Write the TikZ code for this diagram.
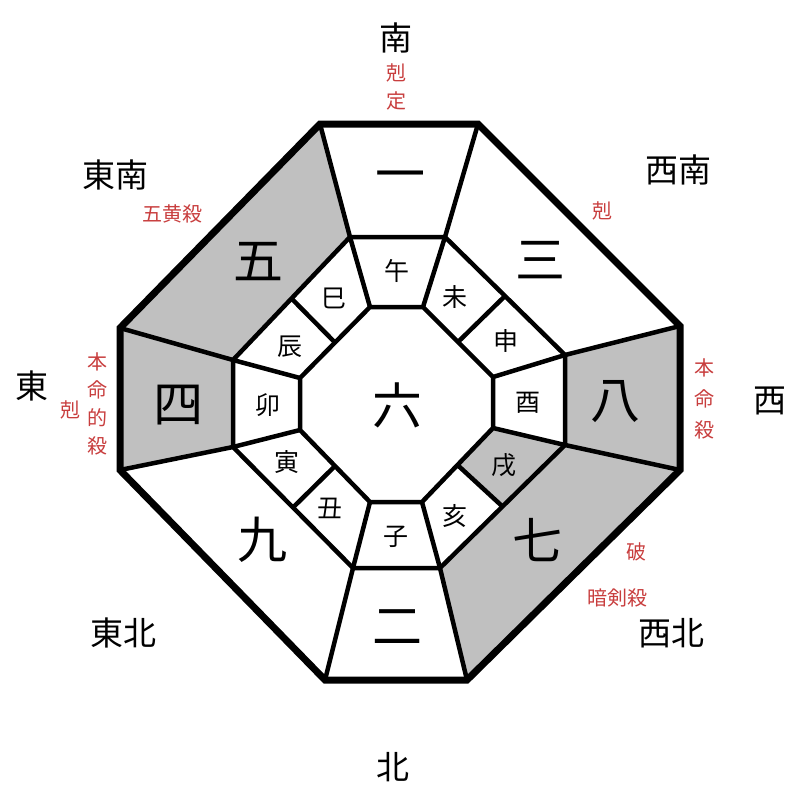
\documentclass[tikz,border=0pt]{standalone}
\usepackage{fontspec}
\usetikzlibrary{calc}
\newfontfamily\cjk{Noto Sans CJK JP}
\definecolor{rojo}{RGB}{200,62,62}
\definecolor{gris}{RGB}{192,192,192}

\begin{document}
\begin{tikzpicture}[x=1pt, y=-1pt,
    borde/.style={line width=7pt, line join=miter},
    linea/.style={line width=4.5pt, line join=miter},
    numero/.style={font=\cjk\fontsize{50}{50}\selectfont, inner sep=0pt},
    rama/.style={font=\cjk\fontsize{25}{25}\selectfont, inner sep=0pt},
    dir/.style={font=\cjk\fontsize{33}{33}\selectfont, inner sep=0pt},
    nota/.style={font=\cjk\fontsize{20}{28}\selectfont, text=rojo, align=center, inner sep=0pt}]
    \useasboundingbox (0,0) rectangle (800,800);

    % Octágono exterior
    \coordinate (O1) at (320,124); \coordinate (O2) at (478,124);
    \coordinate (O3) at (680,326); \coordinate (O4) at (680,470);
    \coordinate (O5) at (467,680); \coordinate (O6) at (325,680);
    \coordinate (O7) at (120,470); \coordinate (O8) at (120,328);
    % Octágono medio
    \coordinate (M1) at (350,237); \coordinate (M2) at (445,237);
    \coordinate (M3) at (565,355); \coordinate (M4) at (565,445);
    \coordinate (M5) at (440,568); \coordinate (M6) at (353,568);
    \coordinate (M7) at (233,447); \coordinate (M8) at (233,360);
    % Octágono interior
    \coordinate (I1) at (370,307); \coordinate (I2) at (423,307);
    \coordinate (I3) at (493,377); \coordinate (I4) at (493,428);
    \coordinate (I5) at (422,502); \coordinate (I6) at (370,502);
    \coordinate (I7) at (300,430); \coordinate (I8) at (300,378);

    % Sectores sombreados
    \fill[gris] (O8) -- (O1) -- (M1) -- (M8) -- cycle;
    \fill[gris] (O7) -- (O8) -- (M8) -- (M7) -- cycle;
    \fill[gris] (O3) -- (O4) -- (M4) -- (M3) -- cycle;
    \fill[gris] (O4) -- (O5) -- (M5) -- (M4) -- cycle;
    \fill[gris] (M4) -- ($(M4)!0.5!(M5)$) -- ($(I4)!0.5!(I5)$) -- (I4) -- cycle;

    % Líneas radiales y anillos
    \foreach \k in {1,...,8}
        \draw[linea] (O\k) -- (M\k) -- (I\k);
    \draw[linea] (M1) -- (M2) -- (M3) -- (M4) -- (M5) -- (M6) -- (M7) -- (M8) -- cycle;
    \draw[linea] (I1) -- (I2) -- (I3) -- (I4) -- (I5) -- (I6) -- (I7) -- (I8) -- cycle;
    \foreach \a/\b in {2/3,4/5,6/7,8/1}
        \draw[linea] ($(M\a)!0.5!(M\b)$) -- ($(I\a)!0.5!(I\b)$);
    \draw[borde] (O1) -- (O2) -- (O3) -- (O4) -- (O5) -- (O6) -- (O7) -- (O8) -- cycle;

    % Números
    \node[numero] (uno) at (400,182) {一};
    \node[numero] (tres) at (540,260) {三};
    \node[numero] (ocho) at (615,402) {八};
    \node[numero] (siete) at (537,540) {七};
    \node[numero] (dos) at (397,627) {二};
    \node[numero] (nueve) at (262,540) {九};
    \node[numero] (cuatro) at (178,405) {四};
    \node[numero] (cinco) at (258,262) {五};
    \node[numero] (seis) at (397,405) {六};

    % Ramas terrestres
    \node[rama] (wu) at (397,271) {午};
    \node[rama] (wei) at (455,297) {未};
    \node[rama] (shen) at (506,341) {申};
    \node[rama] (you) at (528,403) {酉};
    \node[rama] (xu) at (504,465) {戌};
    \node[rama] (hai) at (455,516) {亥};
    \node[rama] (zi) at (396,537) {子};
    \node[rama] (chou) at (330,508) {丑};
    \node[rama] (yin) at (287,462) {寅};
    \node[rama] (mao) at (268,405) {卯};
    \node[rama] (chen) at (290,347) {辰};
    \node[rama] (si) at (334,298) {巳};

    % Direcciones
    \node[dir] (sur) at (396,38) {南};
    \node[dir] (sureste) at (115,175) {東南};
    \node[dir] (suroeste) at (678,170) {西南};
    \node[dir] (este) at (32,386) {東};
    \node[dir] (oeste) at (770,401) {西};
    \node[dir] (noreste) at (123,633) {東北};
    \node[dir] (noroeste) at (671,633) {西北};
    \node[dir] (norte) at (393,767) {北};

    % Notas en rojo
    \node[nota] (kokutei) at (396,87) {剋\\定};
    \node[nota] (gooo) at (172,214) {五黄殺};
    \node[nota] (koku1) at (602,211) {剋};
    \node[nota] (koku2) at (70,410) {剋};
    \node[nota] (honmeiteki) at (97,404) {本\\命\\的\\殺};
    \node[nota, font=\cjk\fontsize{20}{31}\selectfont] (honmei) at (704,399) {本\\命\\殺};
    \node[nota] (ha) at (636,552) {破};
    \node[nota] (anken) at (617,598) {暗剣殺};
\end{tikzpicture}
\end{document}
